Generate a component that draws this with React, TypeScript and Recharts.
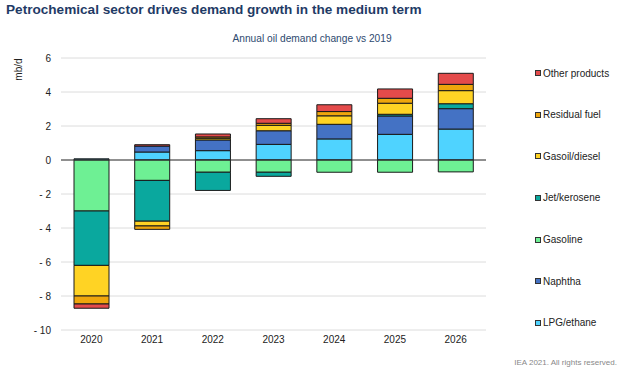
import React from 'react';
import { BarChart, Bar, XAxis, YAxis, CartesianGrid, ReferenceLine } from 'recharts';

const years = ['2020', '2021', '2022', '2023', '2024', '2025', '2026'];
const lpg = [0.07, 0.47, 0.55, 0.92, 1.24, 1.51, 1.82];
const naphtha = [0, 0.35, 0.63, 0.8, 0.86, 1.08, 1.2];
const gasoline = [-3.0, -1.2, -0.72, -0.72, -0.72, -0.72, -0.7];
const jet = [-3.2, -2.4, -1.07, -0.24, 0, 0.1, 0.29];
const gasoil = [-1.8, -0.28, 0.1, 0.32, 0.5, 0.65, 0.77];
const residual = [-0.47, -0.2, 0.08, 0.12, 0.25, 0.29, 0.37];
const other = [-0.25, 0.08, 0.17, 0.27, 0.4, 0.55, 0.65];
const yTicks = [-10, -8, -6, -4, -2, 0, 2, 4, 6];

const series = [
  { key: 'lpg', name: 'LPG/ethane', color: '#4FD3FF', values: lpg },
  { key: 'naphtha', name: 'Naphtha', color: '#4472C4', values: naphtha },
  { key: 'gasoline', name: 'Gasoline', color: '#6EF094', values: gasoline },
  { key: 'jet', name: 'Jet/kerosene', color: '#0AA89E', values: jet },
  { key: 'gasoil', name: 'Gasoil/diesel', color: '#FFD324', values: gasoil },
  { key: 'residual', name: 'Residual fuel', color: '#EFA60C', values: residual },
  { key: 'other', name: 'Other products', color: '#E44B4B', values: other },
];

const data = years.map((y, i) => {
  const row: Record<string, any> = { year: y };
  series.forEach((s) => {
    row[s.key] = s.values[i];
  });
  return row;
});

const font = '"Liberation Sans", Arial, sans-serif';

export default function App() {
  const legendItems = [...series].reverse();
  return (
    <div
      style={{
        position: 'absolute',
        left: 0,
        top: 0,
        width: 624,
        height: 374,
        background: '#fff',
        fontFamily: font,
        overflow: 'hidden',
      }}
    >
      <div
        style={{
          position: 'absolute',
          left: 6,
          top: 2,
          fontSize: 13.6,
          fontWeight: 'bold',
          color: '#1F3B66',
          whiteSpace: 'nowrap',
        }}
      >
        Petrochemical sector drives demand growth in the medium term
      </div>
      <div
        style={{
          position: 'absolute',
          left: 0,
          width: 624,
          top: 33,
          textAlign: 'center',
          fontSize: 10.2,
          color: '#2E4A6F',
        }}
      >
        Annual oil demand change vs 2019
      </div>
      <div
        style={{
          position: 'absolute',
          left: 6,
          top: 64,
          fontSize: 10,
          color: '#222',
          transform: 'rotate(-90deg)',
          transformOrigin: 'center',
          width: 24,
          textAlign: 'center',
        }}
      >
        mb/d
      </div>
      <div style={{ position: 'absolute', left: 0, top: 0 }}>
        <BarChart
          width={624}
          height={374}
          data={data}
          stackOffset="sign"
          margin={{ top: 58, right: 138, bottom: 14, left: 0 }}
          barSize={35}
        >
          <CartesianGrid vertical={false} stroke="#dcdcdc" />
          <XAxis
            dataKey="year"
            axisLine={false}
            tickLine={false}
            height={30}
            tickMargin={0}
            tick={{ fontSize: 10, fill: '#222', fontFamily: font }}
          />
          <YAxis
            width={61}
            domain={[-10, 6]}
            ticks={yTicks}
            interval={0}
            axisLine={false}
            tickLine={false}
            tickMargin={4}
            tickFormatter={(v: number) => (v < 0 ? `- ${-v}` : `${v}`)}
            tick={{ fontSize: 10, fill: '#222', fontFamily: font }}
          />
          <ReferenceLine y={0} stroke="#333" strokeWidth={1} />
          {series.map((s) => (
            <Bar
              key={s.key}
              dataKey={s.key}
              name={s.name}
              stackId="a"
              fill={s.color}
              stroke="#1a1a1a"
              strokeWidth={1}
              isAnimationActive={false}
            />
          ))}
        </BarChart>
      </div>
      {legendItems.map((s, i) => (
        <div
          key={s.key}
          style={{
            position: 'absolute',
            left: 535,
            top: 73.3 + i * 41.55 - 7,
            height: 14,
            display: 'flex',
            alignItems: 'center',
            fontSize: 10,
            color: '#222',
            whiteSpace: 'nowrap',
          }}
        >
          <span
            style={{
              display: 'inline-block',
              width: 4,
              height: 4,
              background: s.color,
              border: '1px solid #333',
              marginRight: 2,
            }}
          />
          {s.name}
        </div>
      ))}
      <div
        style={{
          position: 'absolute',
          right: 7,
          top: 358,
          fontSize: 8,
          color: '#888',
        }}
      >
        IEA 2021. All rights reserved.
      </div>
    </div>
  );
}
